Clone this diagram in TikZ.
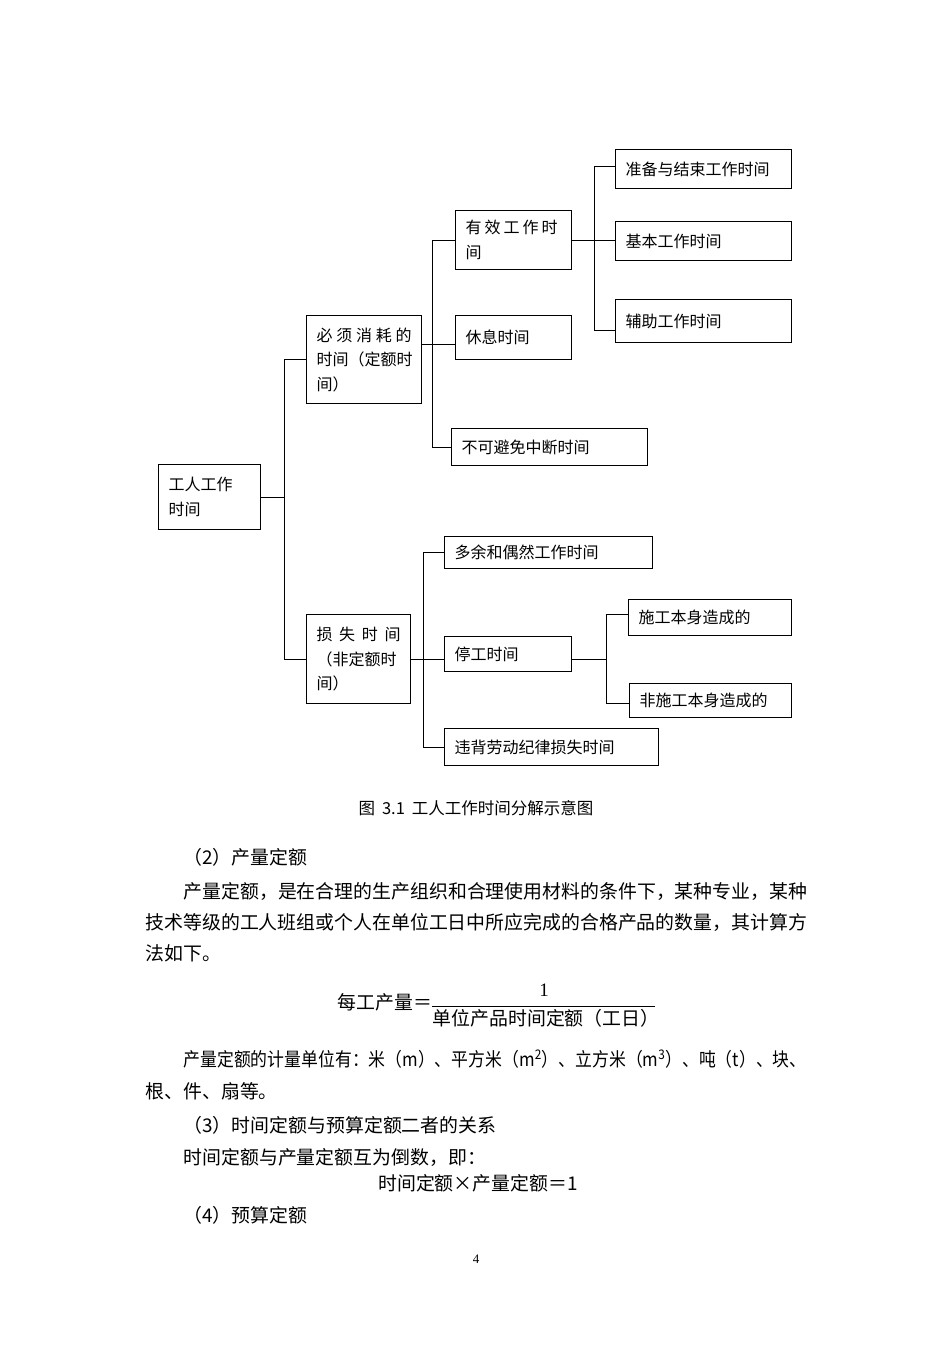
\documentclass[tikz,border=0pt]{standalone}
\usepackage{fontspec}
\setmainfont{Noto Sans CJK SC}
\newfontfamily\latin{Liberation Serif}
\newcommand{\dfont}{\fontsize{16}{24.5}\selectfont}
\newcommand{\bfont}{\fontsize{18.9}{32}\selectfont}
\newcommand{\spreadline}[2]{\makebox[#1][s]{#2}}

\begin{document}
\begin{tikzpicture}[x=1pt, y=-1pt,
  box/.style={draw, line width=1.1pt, anchor=north west, align=left, inner xsep=10pt, inner ysep=0pt, font=\dfont},
  txt/.style={anchor=west, inner sep=0pt, font=\bfont},
  line width=1.1pt]
  \fill[white] (0,0) rectangle (952,1347);
  \useasboundingbox (0,0) rectangle (952,1347);
  % boxes of the tree
  \node[box, text width=82pt, minimum height=65pt] (wt) at (158,464) {工人工作\\时间};
  \node[box, text width=95pt, minimum height=88pt] (nec) at (306,315) {\spreadline{95pt}{必\hfil 须\hfil 消\hfil 耗\hfil 的}\\时间（定额时\\间）};
  \node[box, text width=84pt, minimum height=89pt] (loss) at (306,614) {\spreadline{84pt}{损\hfil 失\hfil 时\hfil 间}\\（非定额时\\间）};
  \node[box, text width=96pt, minimum height=59pt] (eff) at (455,210) {\spreadline{92pt}{有\hfil 效\hfil 工\hfil 作\hfil 时}\\间};
  \node[box, text width=96pt, minimum height=44pt] (rest) at (455,315) {休息时间};
  \node[box, text width=176pt, minimum height=37pt] (intr) at (451,428) {不可避免中断时间};
  \node[box, text width=156pt, minimum height=39pt] (prep) at (615,149) {准备与结束工作时间};
  \node[box, text width=156pt, minimum height=39pt] (basic) at (615,221) {基本工作时间};
  \node[box, text width=156pt, minimum height=43pt] (aux) at (615,299) {辅助工作时间};
  \node[box, text width=188pt, minimum height=32pt] (extra) at (444,536) {多余和偶然工作时间};
  \node[box, text width=107pt, minimum height=35pt] (stop) at (444,636) {停工时间};
  \node[box, text width=194pt, minimum height=37pt] (viol) at (444,728) {违背劳动纪律损失时间};
  \node[box, text width=143pt, minimum height=36pt] (own) at (628,599) {施工本身造成的};
  \node[box, text width=142pt, minimum height=34pt] (other) at (629,683) {非施工本身造成的};
  % connectors
  \draw (wt.east) -- ++(23,0) coordinate (rj);
  \draw (nec.west) -| (rj) |- (loss.west);
  \coordinate (mj) at (432.5,344.5);
  \draw (nec.east |- mj) -- (mj) -- (rest.west |- mj);
  \draw (eff.west) -| (mj) |- (intr.west);
  \draw (eff.east) -- ++(22,0) coordinate (ej) -- (eff.east -| basic.west);
  \draw ([yshift=3pt]prep.west) -| (ej) |- ([yshift=-9pt]aux.west);
  \draw (loss.east) -- ++(12,0) coordinate (lj) -- (lj -| stop.west);
  \draw (extra.west) -| (lj) |- (viol.west);
  \draw (stop.east |- lj) -- ++(34,0) coordinate (sj);
  \draw ([yshift=3pt]own.west) -| (sj) |- ([yshift=-3pt]other.west);
  % caption and text
  \node[font=\fontsize{16.5}{18}\selectfont] (cap) at (476,808) {图\hspace{7pt}3.1\hspace{7pt}工人工作时间分解示意图};
  \node[txt] (h2) at (183,857) {（2）产量定额};
  \node[txt] (l1) at (183,891) {产量定额，是在合理的生产组织和合理使用材料的条件下，某种专业，某种};
  \node[txt] (l2) at (145,922) {技术等级的工人班组或个人在单位工日中所应完成的合格产品的数量，其计算方};
  \node[txt] (l3) at (145,953) {法如下。};
  \node[txt, anchor=east] (lhs) at (433,1002) {每工产量＝};
  \node[txt, anchor=center, font=\latin\fontsize{19}{22}\selectfont] (num) at (544,990) {1};
  \node[txt, anchor=center] (den) at (546,1018) {单位产品时间定额（工日）};
  \draw[line width=0.8pt] ([yshift=2pt]den.north west) -- ([yshift=2pt,xshift=-5pt]den.north east);
  \node[txt] (l4) at (183,1059) {\resizebox{623pt}{\height}{产量定额的计量单位有：米（m）、平方米（m\textsuperscript{2}）、立方米（m\textsuperscript{3}）、吨（t）、块、}};
  \node[txt] (l5) at (145,1091) {根、件、扇等。};
  \node[txt] (h3) at (183,1125) {（3）时间定额与预算定额二者的关系};
  \node[txt] (l6) at (183,1157) {时间定额与产量定额互为倒数，即：};
  \node[txt, anchor=center] (l7) at (478,1183) {时间定额×产量定额＝1};
  \node[txt] (h4) at (183,1215) {（4）预算定额};
  \node[font=\latin\fontsize{13}{15}\selectfont] (pg) at (476,1259) {4};
\end{tikzpicture}
\end{document}
